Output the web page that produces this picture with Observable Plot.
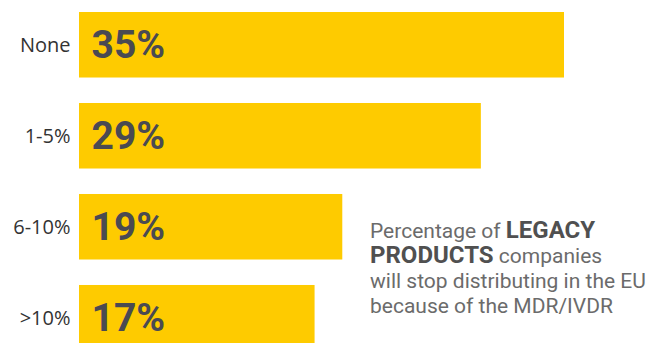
<!DOCTYPE html>
<html>
<head>
<meta charset="utf-8">
<script src="https://cdn.jsdelivr.net/npm/d3@7"></script>
<script src="https://cdn.jsdelivr.net/npm/@observablehq/plot@0.6"></script>
<style>
  html, body { margin: 0; padding: 0; background: #fff; overflow: hidden; }
  #chart svg { display: block; }
</style>
</head>
<body>
<div id="chart"></div>
<script>
const categories = ["None", "1-5%", "6-10%", ">10%"];
const values = [35, 29, 19, 17];
const valueLabels = ["35%", "29%", "19%", "17%"];
const noteLines = [
  [["Percentage of ", false], ["LEGACY", true]],
  [["PRODUCTS", true], [" companies", false]],
  [["will stop distributing in the EU", false]],
  [["because of the MDR/IVDR", false]]
];

const data = categories.map((c, i) => ({cat: c, value: values[i], label: valueLabels[i]}));

const chart = Plot.plot({
  width: 661,
  height: 343,
  marginLeft: 79,
  marginRight: 0,
  marginTop: 0,
  marginBottom: 0,
  style: {background: "#fff", overflow: "visible"},
  x: {domain: [0, 42], axis: null},
  y: {domain: categories, range: [12, 350.5], paddingInner: 0.28, paddingOuter: 0, round: false, label: null},
  marks: [
    Plot.barX(data, {x: "value", y: "cat", fill: "#FECB00"}),
    Plot.text(data, {
      x: 0, y: "cat", text: "label", textAnchor: "start", dx: 12,
      fill: "#4a4a52", fontSize: 39, fontWeight: "bold", fontFamily: "Roboto"
    }),
    Plot.axisY({tickSize: 0, tickPadding: 9, fontSize: 20, fontFamily: "Open Sans", color: "#333", label: null})
  ]
});
document.getElementById("chart").appendChild(chart);

const svg = d3.select(chart);
const note = svg.append("g")
  .attr("font-family", "Roboto")
  .attr("font-size", 21)
  .attr("text-anchor", "start");
noteLines.forEach((parts, i) => {
  const t = note.append("text").attr("x", 370).attr("y", 238 + i * 25);
  parts.forEach(([s, bold]) => {
    t.append("tspan")
      .attr("font-weight", bold ? "bold" : "normal")
      .attr("font-size", bold ? 24 : 21)
      .attr("fill", bold ? "#505050" : "#6b6b6b")
      .text(s);
  });
});
</script>
</body>
</html>
